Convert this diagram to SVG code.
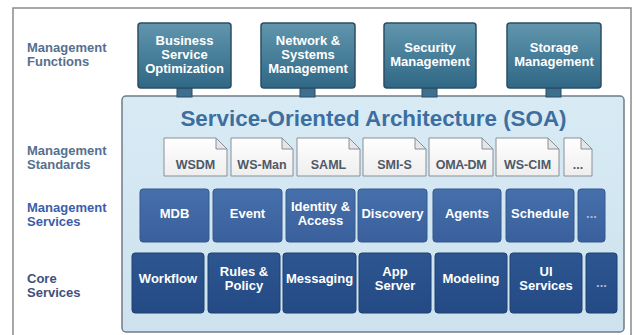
<svg xmlns="http://www.w3.org/2000/svg" width="637" height="335" viewBox="0 0 637 335">
<defs>
<linearGradient id="gFunc" x1="0" y1="0" x2="0" y2="1">
<stop offset="0" stop-color="#6196ad"/>
<stop offset="1" stop-color="#2f6785"/>
</linearGradient>
<linearGradient id="gSoa" x1="0" y1="0" x2="0" y2="1">
<stop offset="0" stop-color="#d8ebf5"/>
<stop offset="1" stop-color="#cde2ee"/>
</linearGradient>
<linearGradient id="gMs" x1="0" y1="0" x2="0" y2="1">
<stop offset="0" stop-color="#4670ab"/>
<stop offset="1" stop-color="#3a609c"/>
</linearGradient>
<linearGradient id="gCs" x1="0" y1="0" x2="0" y2="1">
<stop offset="0" stop-color="#2d5690"/>
<stop offset="1" stop-color="#244a84"/>
</linearGradient>
<linearGradient id="gDoc" x1="0" y1="0" x2="0" y2="1">
<stop offset="0" stop-color="#ffffff"/>
<stop offset="1" stop-color="#eeeeee"/>
</linearGradient>
</defs>
<style>
text{font-family:"Liberation Sans",Arial,sans-serif;font-weight:bold}
.lbl{font-size:13px}
.fn{fill:url(#gFunc);stroke:#2b4d63;stroke-width:1.5}
.fnt{fill:#ffffff;font-size:13px;text-anchor:middle}
.stub{fill:#3f6f8f;stroke:#2b4d63;stroke-width:1}
.doc{fill:url(#gDoc);stroke:#8a8f96;stroke-width:1}
.fold{fill:#e4e6ea;stroke:#8a8f96;stroke-width:1}
.doct{fill:#4f5966;font-size:12.5px;text-anchor:middle}
.ms{fill:url(#gMs);stroke:#35598f;stroke-width:1}
.cs{fill:url(#gCs);stroke:#1f4173;stroke-width:1}
.st{fill:#ffffff;font-size:13px;text-anchor:middle}
.dots{fill:#aebbd6;font-size:13px;text-anchor:middle}
</style>
<rect x="0" y="0" width="637" height="335" fill="#ffffff"/>
<rect x="13" y="8" width="618" height="340" fill="#ffffff" stroke="#8a8a8a" stroke-width="1.5"/>

<g id="labels">
<text class="lbl" fill="#55708f" x="27" y="52">Management</text>
<text class="lbl" fill="#55708f" x="27" y="66">Functions</text>
<text class="lbl" fill="#55708f" x="27" y="155">Management</text>
<text class="lbl" fill="#55708f" x="27" y="169">Standards</text>
<text class="lbl" fill="#3b5eab" x="27" y="212">Management</text>
<text class="lbl" fill="#3b5eab" x="27" y="226">Services</text>
<text class="lbl" fill="#3f4f7c" x="27" y="283">Core</text>
<text class="lbl" fill="#3f4f7c" x="27" y="297">Services</text>
</g>

<g id="soa">
<rect x="122" y="96" width="502" height="236" rx="4" fill="url(#gSoa)" stroke="#6f7c88" stroke-width="1.5"/>
<text x="373.5" y="126" fill="#3d6e9f" font-size="22.4" text-anchor="middle">Service-Oriented Architecture (SOA)</text>
</g>

<g id="connectors">
<rect class="stub" x="177" y="88" width="15" height="9"/>
<rect class="stub" x="300" y="88" width="15" height="9"/>
<rect class="stub" x="422" y="88" width="15" height="9"/>
<rect class="stub" x="546" y="88" width="15" height="9"/>
</g>

<g id="fn-bso">
<rect class="fn" x="138" y="23" width="93" height="65" rx="3"/>
<text class="fnt" x="184.5" y="45">Business</text>
<text class="fnt" x="184.5" y="59">Service</text>
<text class="fnt" x="184.5" y="73">Optimization</text>
</g>
<g id="fn-nsm">
<rect class="fn" x="261" y="23" width="94" height="65" rx="3"/>
<text class="fnt" x="308" y="45">Network &amp;</text>
<text class="fnt" x="308" y="59">Systems</text>
<text class="fnt" x="308" y="73">Management</text>
</g>
<g id="fn-sec">
<rect class="fn" x="384" y="23" width="92" height="65" rx="3"/>
<text class="fnt" x="430" y="52">Security</text>
<text class="fnt" x="430" y="66">Management</text>
</g>
<g id="fn-sto">
<rect class="fn" x="507" y="23" width="94" height="65" rx="3"/>
<text class="fnt" x="554" y="52">Storage</text>
<text class="fnt" x="554" y="66">Management</text>
</g>

<g id="std-wsdm">
<path class="doc" d="M164,138 H216 L227,149 V176 H164 Z"/><path class="fold" d="M216,138 V149 H227 Z"/>
<text class="doct" x="195.5" y="169">WSDM</text>
</g>
<g id="std-wsman">
<path class="doc" d="M231,138 H282 L293,149 V176 H231 Z"/><path class="fold" d="M282,138 V149 H293 Z"/>
<text class="doct" x="262" y="169">WS-Man</text>
</g>
<g id="std-saml">
<path class="doc" d="M297,138 H349 L360,149 V176 H297 Z"/><path class="fold" d="M349,138 V149 H360 Z"/>
<text class="doct" x="328.5" y="169">SAML</text>
</g>
<g id="std-smis">
<path class="doc" d="M363,138 H415 L426,149 V176 H363 Z"/><path class="fold" d="M415,138 V149 H426 Z"/>
<text class="doct" x="394.5" y="169">SMI-S</text>
</g>
<g id="std-omadm">
<path class="doc" d="M429,138 H482 L493,149 V176 H429 Z"/><path class="fold" d="M482,138 V149 H493 Z"/>
<text class="doct" x="461" y="169" letter-spacing="-0.4">OMA-DM</text>
</g>
<g id="std-wscim">
<path class="doc" d="M496,138 H548 L559,149 V176 H496 Z"/><path class="fold" d="M548,138 V149 H559 Z"/>
<text class="doct" x="527.5" y="169">WS-CIM</text>
</g>
<g id="std-more">
<path class="doc" d="M564,138 H581 L592,149 V176 H564 Z"/><path class="fold" d="M581,138 V149 H592 Z"/>
<text class="doct" x="578" y="169">...</text>
</g>

<g id="ms-mdb"><rect class="ms" x="140" y="189" width="69" height="53" rx="3"/><text class="st" x="174.5" y="218">MDB</text></g>
<g id="ms-event"><rect class="ms" x="213" y="189" width="69" height="53" rx="3"/><text class="st" x="247.5" y="218">Event</text></g>
<g id="ms-identity"><rect class="ms" x="286" y="189" width="69" height="53" rx="3"/><text class="st" x="320.5" y="211">Identity &amp;</text><text class="st" x="320.5" y="225">Access</text></g>
<g id="ms-discovery"><rect class="ms" x="358" y="189" width="69" height="53" rx="3"/><text class="st" x="392.5" y="218">Discovery</text></g>
<g id="ms-agents"><rect class="ms" x="433" y="189" width="68" height="53" rx="3"/><text class="st" x="467" y="218">Agents</text></g>
<g id="ms-schedule"><rect class="ms" x="506" y="189" width="68" height="53" rx="3"/><text class="st" x="540" y="218">Schedule</text></g>
<g id="ms-more"><rect class="ms" x="578" y="189" width="27" height="53" rx="3"/><text class="dots" x="591.5" y="218">...</text></g>

<g id="cs-workflow"><rect class="cs" x="132" y="253" width="72" height="60" rx="3"/><text class="st" x="168" y="283">Workflow</text></g>
<g id="cs-rules"><rect class="cs" x="208" y="253" width="72" height="60" rx="3"/><text class="st" x="244" y="276">Rules &amp;</text><text class="st" x="244" y="290">Policy</text></g>
<g id="cs-messaging"><rect class="cs" x="283" y="253" width="73" height="60" rx="3"/><text class="st" x="319.5" y="283">Messaging</text></g>
<g id="cs-appserver"><rect class="cs" x="359" y="253" width="72" height="60" rx="3"/><text class="st" x="395" y="276">App</text><text class="st" x="395" y="290">Server</text></g>
<g id="cs-modeling"><rect class="cs" x="435" y="253" width="72" height="60" rx="3"/><text class="st" x="471" y="283">Modeling</text></g>
<g id="cs-ui"><rect class="cs" x="510" y="253" width="72" height="60" rx="3"/><text class="st" x="546" y="276">UI</text><text class="st" x="546" y="290">Services</text></g>
<g id="cs-more"><rect class="cs" x="586" y="253" width="31" height="60" rx="3"/><text class="dots" x="601.5" y="287">...</text></g>
</svg>
